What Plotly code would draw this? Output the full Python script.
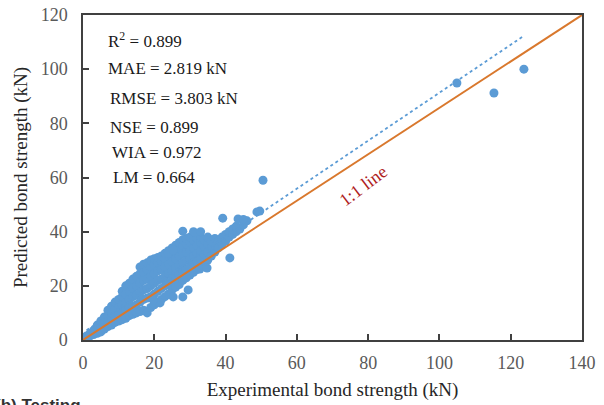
import plotly.graph_objects as go

# testing set: experimental vs predicted bond strength (kN)
# dense band read column by column
blob_exp = [1, 2, 3, 4, 5, 6, 7, 8, 9, 10, 11, 12, 13, 14, 15, 16, 17, 18, 19, 20,
            21, 22, 23, 24, 25, 26, 27, 28, 29, 30, 31, 32, 33, 34, 35, 36, 37, 38,
            39, 40, 41, 42, 43, 44, 45, 46]
blob_pred = [
    [0.5, 1.5], [1.5, 2.5], [2, 3.5], [2.5, 4, 5.5], [3, 5, 7], [4, 6, 8.5],
    [5, 7, 9, 11], [5.5, 8, 10, 12.5], [6.5, 9, 11.5, 14], [7, 9.5, 12, 15],
    [7.5, 10.5, 13, 16, 18], [8, 11, 14, 17, 20], [9, 12, 15, 18, 21],
    [9.5, 12.5, 16, 19, 22.5], [10, 13, 16.5, 20, 23.5],
    [10.5, 14, 17.5, 21, 24.5, 27], [11, 15, 18.5, 22, 25, 28],
    [10, 15.5, 19, 22.5, 26, 28.5], [12, 16, 20, 23.5, 27, 29.5],
    [13, 17, 21, 24.5, 28, 30], [14, 18, 22, 25.5, 28.5, 30.5],
    [15, 19, 22.5, 26, 29, 31], [16, 20, 23.5, 27, 30, 32],
    [17, 21, 24.5, 28, 31, 33], [18.5, 22, 25.5, 29, 32, 34],
    [19.5, 23, 26.5, 30, 33, 35], [20.5, 24, 27.5, 31, 34, 36],
    [22, 25, 28.5, 32, 35, 37], [23, 26, 29.5, 32.5, 35.5, 37.5],
    [24, 27, 30, 33, 36, 38], [25, 28, 31, 34, 37], [26, 29, 32, 35, 37.5],
    [27, 30, 33, 36, 38], [28.5, 31.5, 34.5, 37], [29.5, 32.5, 35.5, 38],
    [31, 34, 36.5], [32.5, 35, 37.5], [34, 36.5], [35.5, 38], [36.5, 39],
    [38, 40], [39, 41], [40, 42], [41], [42.5], [44],
]

# isolated points
outlier_exp = [50.5, 104.9, 115.3, 123.7, 41.2, 28, 31, 33, 39.2, 43.5, 45,
               48.8, 49.6, 23.9, 25.3, 25.3, 28, 29.5, 21.6, 19.7, 32.8, 34.8]
outlier_pred = [59, 94.9, 91.2, 100, 30.3, 40.2, 40, 40, 45, 44.7, 44.5,
                47.3, 47.6, 32, 33.2, 15.9, 15.9, 18.5, 13.7, 14.8, 26.2, 26.6]

# linear fit (dotted) and reference line
fit_x = [1, 123.7]
fit_y = [3.6, 112.3]
ref_x = [0, 140]
ref_y = [0, 120]

stats = ["R<sup>2</sup> = 0.899", "MAE = 2.819 kN", "RMSE = 3.803 kN",
         "NSE = 0.899", "WIA = 0.972", "LM = 0.664"]

exp_vals = [x for x, ys in zip(blob_exp, blob_pred) for _ in ys] + outlier_exp
pred_vals = [y for ys in blob_pred for y in ys] + outlier_pred

SERIF = "Liberation Serif"

fig = go.Figure()
fig.add_trace(go.Scatter(x=exp_vals, y=pred_vals, mode="markers",
                         marker=dict(color="#5B9BD5", size=9)))
fig.add_trace(go.Scatter(x=ref_x, y=ref_y, mode="lines",
                         line=dict(color="#D9782D", width=2)))
fig.add_trace(go.Scatter(x=fit_x, y=fit_y, mode="lines",
                         line=dict(color="#5B9BD5", width=1.8, dash="dot")))

# stats block, positions in page pixels (plot area 83..582 x 15..340)
W, H = 499, 325
stat_pos = [(106, 40), (106, 68), (108, 99), (108, 127), (110, 152), (111, 177)]
for txt, (px, py) in zip(stats, stat_pos):
    fig.add_annotation(text=txt, xref="paper", yref="paper",
                       x=(px - 83) / W, y=(340 - py) / H,
                       xanchor="left", yanchor="middle", showarrow=False,
                       font=dict(family=SERIF, size=17, color="#1a1a1a"))

fig.add_annotation(text="1:1 line", x=78.6, y=56.9, textangle=-37,
                   showarrow=False,
                   font=dict(family=SERIF, size=18, color="#B01E1E"))

fig.add_annotation(text="(b) Testing", xref="paper", yref="paper",
                   x=(-7 - 83) / W, y=(340 - 394) / H,
                   xanchor="left", yanchor="top", showarrow=False,
                   font=dict(family="Liberation Sans", size=17, color="#333333",
                             weight="bold"))

axis_common = dict(showgrid=False, zeroline=False, showline=True, mirror=True,
                   linecolor="#404040", linewidth=1.5, ticks="inside",
                   ticklen=6, tickcolor="#404040", tickwidth=1.5, automargin=False,
                   tickfont=dict(family=SERIF, size=18, color="#595959"))

fig.update_xaxes(range=[0, 140], dtick=20, ticklabelstandoff=6,
                 title=dict(text="Experimental bond strength (kN)", standoff=10,
                            font=dict(family=SERIF, size=19, color="#262626")),
                 **axis_common)
fig.update_yaxes(range=[0, 120], dtick=20, ticklabelstandoff=10,
                 title=dict(text="Predicted bond strength (kN)", standoff=8,
                            font=dict(family=SERIF, size=19, color="#262626")),
                 **axis_common)

fig.update_layout(width=604, height=405, showlegend=False,
                  margin=dict(l=83, r=22, t=15, b=65, autoexpand=False),
                  plot_bgcolor="white", paper_bgcolor="white")

# drop the default body margin so the figure fills the window exactly
fig.write_html("out.html", config={"displayModeBar": False},
               post_script="document.body.style.margin = '0';")
